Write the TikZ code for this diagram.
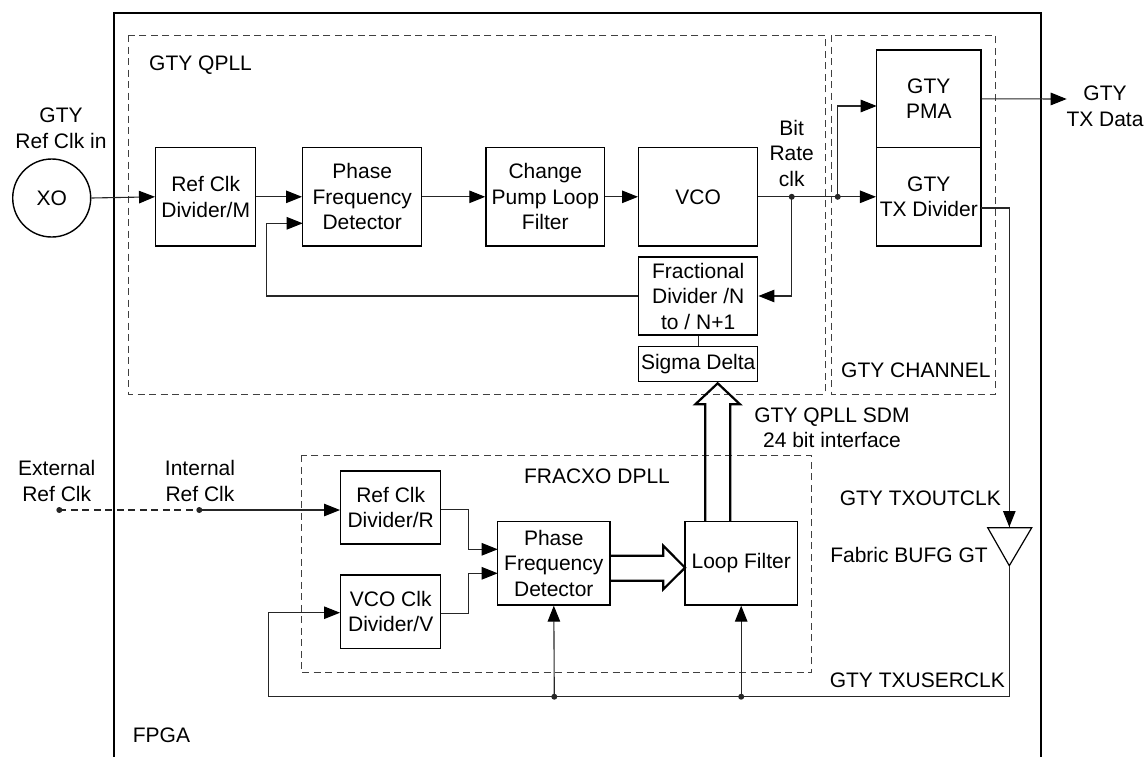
\documentclass[tikz,border=0pt]{standalone}
\usepackage{fontspec}
\setmainfont{Liberation Sans}
\usetikzlibrary{arrows.meta,calc}
\begin{document}
\begin{tikzpicture}[x=1pt,y=-1pt,
  every node/.style={font=\fontsize{21}{25.5}\selectfont, inner sep=0pt},
  blk/.style={draw=black, line width=1.4pt, align=center},
  wire/.style={draw=black!85, line width=1.1pt},
  arr/.style={wire, -{Triangle[length=16pt 0,width=12.5pt 0,fill=black,color=black]}},
  grp/.style={draw=black!75, line width=1pt, dash pattern=on 7pt off 4.5pt},
  hollow/.style={draw=black, line width=2.2pt, miter limit=10},
  lbl/.style={align=center},
  dotc/.style={fill=black!85}
]
\useasboundingbox (0,0) rectangle (1147,756);

% FPGA outline (bottom edge outside picture)
\draw[line width=1.8pt] (114,757) -- (114,13) -- (1041,13) -- (1041,757);
\node[anchor=west] (fpga) at (132.7,735) {FPGA};

% group boxes
\draw[grp] (128.7,35) rectangle (825,394);
\node[anchor=base west] (qpll) at (149,70) {GTY QPLL};
\draw[grp] (831,35) rectangle (995,394);
\node[anchor=west] (chan) at (841,370) {GTY CHANNEL};
\draw[grp] (301,455.3) rectangle (811,672.7);
\node (fracxo) at (597,476.7) {FRACXO DPLL};

% top blocks
\node[draw=black, line width=1.4pt, circle, minimum size=78pt] (xo) at (51.7,198) {XO};
\node[lbl] (gtyref) at (61,128.5) {GTY\\Ref Clk in};
\node[blk, minimum width=100pt, minimum height=98.3pt] (refm) at (205.7,196.8) {Ref Clk\\Divider/M};
\node[blk, minimum width=119pt, minimum height=98.3pt] (pfd1) at (362.2,196.8) {Phase\\Frequency\\Detector};
\node[blk, minimum width=118.7pt, minimum height=98.3pt] (cp) at (545.3,196.8) {Change\\Pump Loop\\Filter};
\node[blk, minimum width=119pt, minimum height=98.3pt] (vco) at (698.2,196.8) {VCO};
\node[blk, minimum width=119pt, minimum height=78pt] (frac) at (698.2,296) {Fractional\\Divider /N\\to / N+1};
\node[blk, minimum width=119pt, minimum height=35pt] (sd) at (698.2,364.2) {Sigma Delta};
\node[blk, minimum width=104.3pt, minimum height=97.7pt] (pma) at (928.8,98.8) {GTY\\PMA};
\node[blk, minimum width=104.3pt, minimum height=98.3pt] (txdiv) at (928.8,196.8) {GTY\\TX Divider};
\node[lbl] (brclbl) at (791.7,153) {Bit\\Rate\\clk};
\node[lbl] (txdata) at (1105,106.5) {GTY\\TX Data};

% bottom blocks
\node[blk, minimum width=100pt, minimum height=73pt] (refr) at (390.7,507.5) {Ref Clk\\Divider/R};
\node[blk, minimum width=100pt, minimum height=73.3pt] (vcov) at (390.7,611.7) {VCO Clk\\Divider/V};
\node[blk, minimum width=112.3pt, minimum height=83.3pt] (pfd2) at (553.8,563.3) {Phase\\Frequency\\Detector};
\node[blk, minimum width=112.3pt, minimum height=83.3pt] (lf) at (741.2,563.3) {Loop Filter};
\node[lbl] (extlbl) at (56.7,481) {External\\Ref Clk};
\node[lbl] (intlbl) at (200,481) {Internal\\Ref Clk};
\node[lbl] (sdm) at (832,428) {GTY QPLL SDM\\24 bit interface};
\node[anchor=east] (txout) at (1001,498) {GTY TXOUTCLK};
\node[anchor=east] (bufg) at (988,555) {Fabric BUFG GT};
\node[anchor=east] (txuser) at (1005,680) {GTY TXUSERCLK};

% coordinates
\coordinate (brc) at (791.7,196.8);
\coordinate (split) at (837.7,196.8);
\coordinate (fbk) at (266.7,296);
\coordinate (bufin) at (1009.3,527.7);
\coordinate (bufout) at (1009.3,565.7);
\coordinate (busR) at (1009.3,696.7);
\coordinate (busL) at (268.3,696.7);
\coordinate (d1) at (554.3,696.7);
\coordinate (d2) at (741.2,696.7);
\coordinate (ext) at (59.3,510);
\coordinate (int) at (199.3,510);
\coordinate (dout) at (1066.7,99);

% top connectors
\draw[arr] (xo.east) -- (refm.west);
\draw[arr] (refm.east) -- (pfd1.west);
\draw[arr] (pfd1.east) -- (cp.west);
\draw[arr] (cp.east) -- (vco.west);
\draw[wire] (vco.east) -- (brc);
\draw[wire] (brc) -- (split);
\draw[arr] (split) -- (txdiv.west);
\draw[arr] (brc) |- (frac.east);
\draw[arr] (split) |- (876.7,106);
\draw[arr] (pma.east) -- (dout);
\draw[arr] (frac.west) -- (fbk) |- (302.7,223.3);
\draw[wire] (frac.south) -- (sd.north);
\draw[wire] (981,208) -| (bufin);
\draw[arr] (1009.3,500) -- (1009.3,527);
\draw[line width=1.2pt, draw=black] (987.7,527.7) -- (1031.7,527.7) -- (bufout) -- cycle;

% bottom connectors
\draw[wire] (bufout) -- (busR) -- (busL) -- (268.3,612.7);
\draw[arr] (268.3,612.7) -- (vcov.west |- 0,612.7);
\draw[arr] (d1) -- (pfd2.south);
\draw[arr] (d2) -- (lf.south);
\draw[wire] (440.7,509.3) -- (468.3,509.3) -- (468.3,549.3);
\draw[arr] (468.3,549.3) -- (497.7,549.3);
\draw[wire] (440.7,613.3) -- (468.3,613.3) -- (468.3,573.3);
\draw[arr] (468.3,573.3) -- (497.7,573.3);
\draw[wire, dash pattern=on 7pt off 4.5pt] (ext) -- (int);
\draw[arr] (int) -- (refr.west |- int);

% hollow arrows
\draw[hollow] (610,555.7) -- (663.3,555.7) -- (663.3,545.7) -- (685,567.7) -- (663.3,589.3) -- (663.3,580.7) -- (610,580.7);
\draw[hollow] (705.3,521.7) -- (705.3,404.3) -- (695.3,404.3) -- (717.7,383.3) -- (740,404.3) -- (730.3,404.3) -- (730.3,521.7);

% dots
\foreach \p in {brc,split,d1,d2,ext,int} \fill[dotc] (\p) circle (3pt);
\end{tikzpicture}
\end{document}
